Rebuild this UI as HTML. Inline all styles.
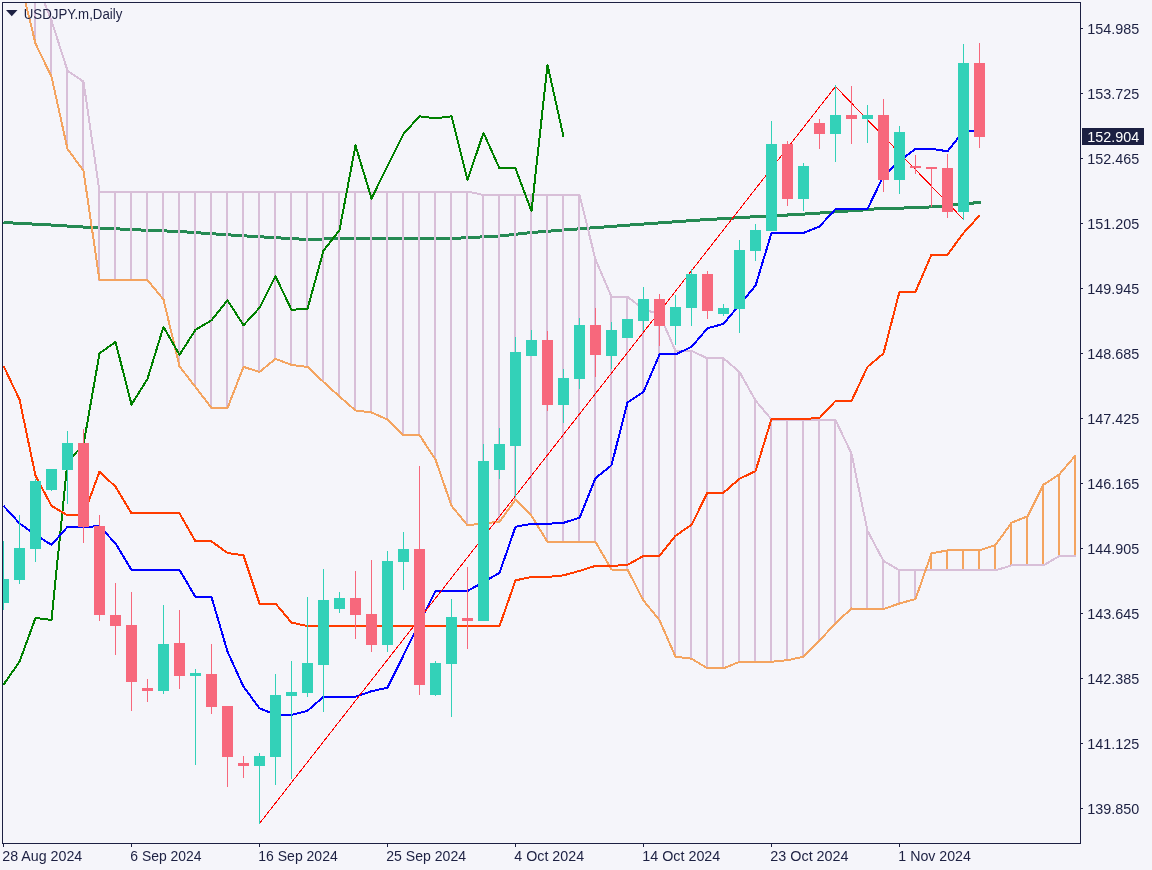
<!DOCTYPE html>
<html lang="en"><head><meta charset="utf-8"><title>USDJPY.m,Daily</title>
<style>
html,body{margin:0;padding:0;background:#f5f5fa;}
body{width:1152px;height:870px;overflow:hidden;}
svg{display:block;}
text{font-family:"Liberation Sans",sans-serif;font-size:14px;fill:#1c2042;}
</style></head><body>
<svg width="1152" height="870" viewBox="0 0 1152 870">
<rect width="1152" height="870" fill="#f5f5fa"/>
<defs><clipPath id="c"><rect x="3" y="3" width="1077" height="840"/></clipPath></defs>
<g clip-path="url(#c)" fill="none" stroke-linejoin="round" shape-rendering="crispEdges">
<polyline points="3.5,222.5 50.5,225 99.5,228 140.5,230 179.5,231.5 230.5,235 280.5,238 307.5,239.5 339.5,238.5 371.5,238.5 451.5,238.5 470.5,237.5 500.5,236 531.5,232.5 563.5,230 630.5,225 700.5,220 750.5,217 800.5,214.3 827.5,212.5 848.5,211 864.5,209.9 878.5,208.6 900.5,208.1 920.5,207.6 940.5,206.2 963.5,204 980.8,202.3" stroke="#258a53" stroke-width="3"/>
<g shape-rendering="crispEdges"><rect x="34" y="-20.5525" width="2" height="64.66" fill="#d8bfd8"/><rect x="50" y="20.05" width="2" height="57.14" fill="#d8bfd8"/><rect x="66" y="70.175" width="2" height="79.195" fill="#d8bfd8"/><rect x="82" y="81.2025" width="2" height="90.2225" fill="#d8bfd8"/><rect x="98" y="190.976" width="2" height="89.7225" fill="#d8bfd8"/><rect x="114" y="190.976" width="2" height="89.7225" fill="#d8bfd8"/><rect x="130" y="190.976" width="2" height="89.7225" fill="#d8bfd8"/><rect x="146" y="190.976" width="2" height="89.7225" fill="#d8bfd8"/><rect x="162" y="190.976" width="2" height="109.021" fill="#d8bfd8"/><rect x="178" y="190.976" width="2" height="175.938" fill="#d8bfd8"/><rect x="194" y="190.976" width="2" height="196.489" fill="#d8bfd8"/><rect x="210" y="190.976" width="2" height="217.543" fill="#d8bfd8"/><rect x="226" y="190.976" width="2" height="217.543" fill="#d8bfd8"/><rect x="242" y="190.976" width="2" height="176.439" fill="#d8bfd8"/><rect x="258" y="190.976" width="2" height="181.451" fill="#d8bfd8"/><rect x="274" y="190.976" width="2" height="168.419" fill="#d8bfd8"/><rect x="290" y="190.976" width="2" height="174.434" fill="#d8bfd8"/><rect x="306" y="190.976" width="2" height="176.439" fill="#d8bfd8"/><rect x="322" y="190.976" width="2" height="191.476" fill="#d8bfd8"/><rect x="338" y="190.976" width="2" height="206.012" fill="#d8bfd8"/><rect x="354" y="190.976" width="2" height="220.049" fill="#d8bfd8"/><rect x="370" y="190.976" width="2" height="222.054" fill="#d8bfd8"/><rect x="386" y="190.976" width="2" height="229.071" fill="#d8bfd8"/><rect x="402" y="190.976" width="2" height="244.61" fill="#d8bfd8"/><rect x="418" y="190.976" width="2" height="244.61" fill="#d8bfd8"/><rect x="434" y="190.976" width="2" height="269.171" fill="#d8bfd8"/><rect x="450" y="190.976" width="2" height="315.286" fill="#d8bfd8"/><rect x="466" y="190.976" width="2" height="334.835" fill="#d8bfd8"/><rect x="482" y="194.485" width="2" height="329.321" fill="#d8bfd8"/><rect x="498" y="194.485" width="2" height="327.817" fill="#d8bfd8"/><rect x="514" y="194.485" width="2" height="305.762" fill="#d8bfd8"/><rect x="530" y="194.485" width="2" height="321.803" fill="#d8bfd8"/><rect x="546" y="194.485" width="2" height="347.867" fill="#d8bfd8"/><rect x="562" y="194.485" width="2" height="347.867" fill="#d8bfd8"/><rect x="578" y="194.485" width="2" height="347.867" fill="#d8bfd8"/><rect x="594" y="259.147" width="2" height="283.205" fill="#d8bfd8"/><rect x="610" y="296.24" width="2" height="273.783" fill="#d8bfd8"/><rect x="626" y="296.24" width="2" height="273.783" fill="#d8bfd8"/><rect x="642" y="308.771" width="2" height="292.329" fill="#d8bfd8"/><rect x="658" y="313.784" width="2" height="306.865" fill="#d8bfd8"/><rect x="674" y="350.375" width="2" height="306.865" fill="#d8bfd8"/><rect x="690" y="350.375" width="2" height="308.87" fill="#d8bfd8"/><rect x="706" y="357.894" width="2" height="310.875" fill="#d8bfd8"/><rect x="722" y="357.894" width="2" height="310.875" fill="#d8bfd8"/><rect x="738" y="371.428" width="2" height="290.825" fill="#d8bfd8"/><rect x="754" y="400" width="2" height="262.253" fill="#d8bfd8"/><rect x="770" y="419.048" width="2" height="243.205" fill="#d8bfd8"/><rect x="786" y="419.048" width="2" height="241.701" fill="#d8bfd8"/><rect x="802" y="419.048" width="2" height="238.192" fill="#d8bfd8"/><rect x="818" y="419.048" width="2" height="222.153" fill="#d8bfd8"/><rect x="834" y="419.549" width="2" height="204.108" fill="#d8bfd8"/><rect x="850" y="453.132" width="2" height="155.886" fill="#d8bfd8"/><rect x="866" y="530.325" width="2" height="79.195" fill="#d8bfd8"/><rect x="882" y="560.4" width="2" height="49.12" fill="#d8bfd8"/><rect x="898" y="569.924" width="2" height="34.0825" fill="#d8bfd8"/><rect x="914" y="569.924" width="2" height="29.5712" fill="#d8bfd8"/><rect x="930" y="552.881" width="2" height="18.0425" fill="#f4a460"/><rect x="946" y="549.874" width="2" height="21.05" fill="#f4a460"/><rect x="962" y="549.874" width="2" height="21.05" fill="#f4a460"/><rect x="978" y="549.874" width="2" height="21.05" fill="#f4a460"/><rect x="994" y="544.36" width="2" height="26.5638" fill="#f4a460"/><rect x="1010" y="522.305" width="2" height="43.6063" fill="#f4a460"/><rect x="1026" y="515.789" width="2" height="50.1225" fill="#f4a460"/><rect x="1042" y="484.21" width="2" height="81.7013" fill="#f4a460"/><rect x="1058" y="473.684" width="2" height="82.7038" fill="#f4a460"/><rect x="1074" y="454.937" width="2" height="101.451" fill="#f4a460"/></g>
<polyline points="35.5,-20.1 51.5,20.6 67.5,70.7 83.5,81.7 99.5,191.5 115.5,191.5 131.5,191.5 147.5,191.5 163.5,191.5 179.5,191.5 195.5,191.5 211.5,191.5 227.5,191.5 243.5,191.5 259.5,191.5 275.5,191.5 291.5,191.5 307.5,191.5 323.5,191.5 339.5,191.5 355.5,191.5 371.5,191.5 387.5,191.5 403.5,191.5 419.5,191.5 435.5,191.5 451.5,191.5 467.5,191.5 483.5,195.0 499.5,195.0 515.5,195.0 531.5,195.0 547.5,195.0 563.5,195.0 579.5,195.0 595.5,259.6 611.5,296.7 627.5,296.7 643.5,309.3 659.5,314.3 675.5,350.9 691.5,350.9 707.5,358.4 723.5,358.4 739.5,371.9 755.5,400.5 771.5,419.5 787.5,419.5 803.5,419.5 819.5,419.5 835.5,420.0 851.5,453.6 867.5,530.8 883.5,560.9 899.5,570.4 915.5,570.4 931.5,570.4 947.5,570.4 963.5,570.4 979.5,570.4 995.5,570.4 1011.5,565.4 1027.5,565.4 1043.5,565.4 1059.5,555.9 1075.5,555.9" stroke="#d8bfd8" stroke-width="2"/>
<polyline points="19.5,-22.1 35.5,43.6 51.5,76.7 67.5,148.9 83.5,170.9 99.5,280.2 115.5,280.2 131.5,280.2 147.5,280.2 163.5,299.5 179.5,366.4 195.5,387.0 211.5,408.0 227.5,408.0 243.5,366.9 259.5,371.9 275.5,358.9 291.5,364.9 307.5,366.9 323.5,382.0 339.5,396.5 355.5,410.5 371.5,412.5 387.5,419.5 403.5,435.1 419.5,435.1 435.5,459.6 451.5,505.8 467.5,525.3 483.5,523.3 499.5,521.8 515.5,499.7 531.5,515.8 547.5,541.9 563.5,541.9 579.5,541.9 595.5,541.9 611.5,569.5 627.5,569.5 643.5,600.6 659.5,620.1 675.5,656.7 691.5,658.7 707.5,668.3 723.5,668.3 739.5,661.8 755.5,661.8 771.5,661.8 787.5,660.2 803.5,656.7 819.5,640.7 835.5,623.2 851.5,608.5 867.5,609.0 883.5,609.0 899.5,603.5 915.5,599.0 931.5,553.4 947.5,550.4 963.5,550.4 979.5,550.4 995.5,544.9 1011.5,522.8 1027.5,516.3 1043.5,484.7 1059.5,474.2 1075.5,455.4" stroke="#f4a460" stroke-width="2"/>
<polyline points="3.5,684.7 19.5,661.7 35.5,618.0 51.5,620.0 67.5,461.7 83.5,444.6 99.5,353.4 115.5,341.9 131.5,404.5 147.5,378.9 163.5,326.8 179.5,354.9 195.5,329.8 211.5,320.3 227.5,300.2 243.5,325.3 259.5,307.8 275.5,276.2 291.5,309.8 307.5,308.8 323.5,250.6 339.5,230.1 355.5,145.4 371.5,198.5 387.5,165.9 403.5,133.8 419.5,116.3 435.5,118.3 451.5,116.3 467.5,179.9 483.5,132.8 499.5,168.4 515.5,168.4 531.5,211.0 547.5,64.7 563.5,136.8" stroke="#008000" stroke-width="2"/>
<polyline points="3.5,365.9 19.5,399.5 35.5,475.7 51.5,505.8 67.5,515.3 83.5,515.3 99.5,471.7 115.5,486.7 131.5,513.3 147.5,513.3 163.5,513.3 179.5,513.3 195.5,541.4 211.5,541.4 227.5,552.9 243.5,555.4 259.5,603.5 275.5,603.5 291.5,622.6 307.5,626.1 323.5,626.1 339.5,626.1 355.5,626.1 371.5,626.1 387.5,626.1 403.5,626.1 419.5,626.1 435.5,626.1 451.5,626.1 467.5,626.1 483.5,626.1 499.5,626.1 515.5,580.4 531.5,576.9 547.5,576.9 563.5,575.4 579.5,570.9 595.5,565.9 611.5,565.9 627.5,564.9 643.5,555.9 659.5,555.9 675.5,535.8 691.5,524.8 707.5,492.7 723.5,492.7 739.5,478.7 755.5,471.2 771.5,419.0 787.5,419.0 803.5,419.0 819.5,418.0 835.5,401.0 851.5,401.0 867.5,366.9 883.5,353.4 899.5,291.7 915.5,291.7 931.5,254.6 947.5,254.6 963.5,233.1 979.5,215.5" stroke="#ff3c00" stroke-width="2"/>
<polyline points="3.5,505.8 19.5,523.3 35.5,534.8 51.5,544.9 67.5,526.8 83.5,526.8 99.5,526.3 115.5,543.4 131.5,569.9 147.5,569.9 163.5,569.9 179.5,569.9 195.5,597.0 211.5,597.0 227.5,651.6 243.5,686.7 259.5,708.3 275.5,714.8 291.5,714.8 307.5,710.8 323.5,696.7 339.5,696.7 355.5,696.7 371.5,691.2 387.5,687.7 403.5,655.3 419.5,622.9 435.5,591.0 451.5,591.0 467.5,591.0 483.5,582.0 499.5,572.9 515.5,526.8 531.5,523.8 547.5,523.8 563.5,522.8 579.5,517.8 595.5,478.2 611.5,465.2 627.5,402.5 643.5,392.0 659.5,354.4 675.5,354.4 691.5,346.9 707.5,328.3 723.5,323.8 739.5,304.8 755.5,285.7 771.5,233.0 787.5,233.0 803.5,233.0 819.5,226.5 835.5,209.0 851.5,209.0 867.5,209.0 883.5,175.9 899.5,160.8 915.5,148.8 931.5,148.8 947.5,151.3 963.5,131.3 979.5,131.3" stroke="#0000ff" stroke-width="2"/>
<path d="M259.5 823.5L835.5 86.5L963.5 219.5" stroke="#ff0000" stroke-width="1"/>
<g shape-rendering="crispEdges"><rect x="3" y="541" width="1" height="69" fill="#33d1b8"/><rect x="-2" y="579" width="11" height="24" fill="#33d1b8"/><rect x="19" y="515" width="1" height="69" fill="#33d1b8"/><rect x="14" y="548" width="11" height="32" fill="#33d1b8"/><rect x="35" y="479" width="1" height="83" fill="#33d1b8"/><rect x="30" y="481" width="11" height="68" fill="#33d1b8"/><rect x="51" y="469" width="1" height="22" fill="#33d1b8"/><rect x="46" y="469" width="11" height="21" fill="#33d1b8"/><rect x="67" y="431" width="1" height="73" fill="#33d1b8"/><rect x="62" y="443" width="11" height="27" fill="#33d1b8"/><rect x="83" y="429" width="1" height="114" fill="#f7687c"/><rect x="78" y="443" width="11" height="84" fill="#f7687c"/><rect x="99" y="515" width="1" height="106" fill="#f7687c"/><rect x="94" y="526" width="11" height="89" fill="#f7687c"/><rect x="115" y="583" width="1" height="72" fill="#f7687c"/><rect x="110" y="615" width="11" height="11" fill="#f7687c"/><rect x="131" y="592" width="1" height="119" fill="#f7687c"/><rect x="126" y="625" width="11" height="57" fill="#f7687c"/><rect x="147" y="679" width="1" height="23" fill="#f7687c"/><rect x="142" y="688" width="11" height="3" fill="#f7687c"/><rect x="163" y="605" width="1" height="89" fill="#33d1b8"/><rect x="158" y="644" width="11" height="47" fill="#33d1b8"/><rect x="179" y="610" width="1" height="79" fill="#f7687c"/><rect x="174" y="643" width="11" height="33" fill="#f7687c"/><rect x="195" y="669" width="1" height="96" fill="#33d1b8"/><rect x="190" y="673" width="11" height="3" fill="#33d1b8"/><rect x="211" y="644" width="1" height="70" fill="#f7687c"/><rect x="206" y="674" width="11" height="33" fill="#f7687c"/><rect x="227" y="706" width="1" height="81" fill="#f7687c"/><rect x="222" y="706" width="11" height="51" fill="#f7687c"/><rect x="243" y="756" width="1" height="22" fill="#f7687c"/><rect x="238" y="763" width="11" height="3" fill="#f7687c"/><rect x="259" y="753" width="1" height="71" fill="#33d1b8"/><rect x="254" y="756" width="11" height="10" fill="#33d1b8"/><rect x="275" y="674" width="1" height="111" fill="#33d1b8"/><rect x="270" y="695" width="11" height="62" fill="#33d1b8"/><rect x="291" y="661" width="1" height="118" fill="#33d1b8"/><rect x="286" y="692" width="11" height="4" fill="#33d1b8"/><rect x="307" y="597" width="1" height="100" fill="#33d1b8"/><rect x="302" y="663" width="11" height="30" fill="#33d1b8"/><rect x="323" y="569" width="1" height="143" fill="#33d1b8"/><rect x="318" y="600" width="11" height="65" fill="#33d1b8"/><rect x="339" y="592" width="1" height="21" fill="#33d1b8"/><rect x="334" y="598" width="11" height="11" fill="#33d1b8"/><rect x="355" y="571" width="1" height="68" fill="#f7687c"/><rect x="350" y="598" width="11" height="17" fill="#f7687c"/><rect x="371" y="560" width="1" height="92" fill="#f7687c"/><rect x="366" y="614" width="11" height="31" fill="#f7687c"/><rect x="387" y="551" width="1" height="101" fill="#33d1b8"/><rect x="382" y="561" width="11" height="84" fill="#33d1b8"/><rect x="403" y="532" width="1" height="58" fill="#33d1b8"/><rect x="398" y="549" width="11" height="13" fill="#33d1b8"/><rect x="419" y="466" width="1" height="229" fill="#f7687c"/><rect x="414" y="549" width="11" height="136" fill="#f7687c"/><rect x="435" y="661" width="1" height="35" fill="#33d1b8"/><rect x="430" y="663" width="11" height="32" fill="#33d1b8"/><rect x="451" y="599" width="1" height="118" fill="#33d1b8"/><rect x="446" y="617" width="11" height="47" fill="#33d1b8"/><rect x="467" y="567" width="1" height="82" fill="#f7687c"/><rect x="462" y="618" width="11" height="3" fill="#f7687c"/><rect x="483" y="444" width="1" height="177" fill="#33d1b8"/><rect x="478" y="461" width="11" height="160" fill="#33d1b8"/><rect x="499" y="428" width="1" height="51" fill="#33d1b8"/><rect x="494" y="444" width="11" height="26" fill="#33d1b8"/><rect x="515" y="337" width="1" height="160" fill="#33d1b8"/><rect x="510" y="352" width="11" height="94" fill="#33d1b8"/><rect x="531" y="330" width="1" height="26" fill="#33d1b8"/><rect x="526" y="340" width="11" height="16" fill="#33d1b8"/><rect x="547" y="331" width="1" height="80" fill="#f7687c"/><rect x="542" y="340" width="11" height="65" fill="#f7687c"/><rect x="563" y="369" width="1" height="54" fill="#33d1b8"/><rect x="558" y="378" width="11" height="27" fill="#33d1b8"/><rect x="579" y="318" width="1" height="71" fill="#33d1b8"/><rect x="574" y="325" width="11" height="54" fill="#33d1b8"/><rect x="595" y="308" width="1" height="69" fill="#f7687c"/><rect x="590" y="325" width="11" height="30" fill="#f7687c"/><rect x="611" y="322" width="1" height="47" fill="#33d1b8"/><rect x="606" y="330" width="11" height="26" fill="#33d1b8"/><rect x="627" y="319" width="1" height="19" fill="#33d1b8"/><rect x="622" y="319" width="11" height="19" fill="#33d1b8"/><rect x="643" y="287" width="1" height="44" fill="#33d1b8"/><rect x="638" y="299" width="11" height="22" fill="#33d1b8"/><rect x="659" y="294" width="1" height="52" fill="#f7687c"/><rect x="654" y="299" width="11" height="27" fill="#f7687c"/><rect x="675" y="295" width="1" height="50" fill="#33d1b8"/><rect x="670" y="307" width="11" height="19" fill="#33d1b8"/><rect x="691" y="269" width="1" height="57" fill="#33d1b8"/><rect x="686" y="274" width="11" height="34" fill="#33d1b8"/><rect x="707" y="271" width="1" height="48" fill="#f7687c"/><rect x="702" y="274" width="11" height="37" fill="#f7687c"/><rect x="723" y="304" width="1" height="12" fill="#33d1b8"/><rect x="718" y="308" width="11" height="6" fill="#33d1b8"/><rect x="739" y="240" width="1" height="93" fill="#33d1b8"/><rect x="734" y="250" width="11" height="59" fill="#33d1b8"/><rect x="755" y="224" width="1" height="37" fill="#33d1b8"/><rect x="750" y="230" width="11" height="21" fill="#33d1b8"/><rect x="771" y="121" width="1" height="110" fill="#33d1b8"/><rect x="766" y="144" width="11" height="87" fill="#33d1b8"/><rect x="787" y="141" width="1" height="65" fill="#f7687c"/><rect x="782" y="144" width="11" height="55" fill="#f7687c"/><rect x="803" y="163" width="1" height="48" fill="#33d1b8"/><rect x="798" y="166" width="11" height="33" fill="#33d1b8"/><rect x="819" y="119" width="1" height="30" fill="#f7687c"/><rect x="814" y="123" width="11" height="11" fill="#f7687c"/><rect x="835" y="85" width="1" height="77" fill="#33d1b8"/><rect x="830" y="115" width="11" height="19" fill="#33d1b8"/><rect x="851" y="86" width="1" height="58" fill="#f7687c"/><rect x="846" y="115" width="11" height="4" fill="#f7687c"/><rect x="867" y="105" width="1" height="38" fill="#33d1b8"/><rect x="862" y="115" width="11" height="4" fill="#33d1b8"/><rect x="883" y="99" width="1" height="93" fill="#f7687c"/><rect x="878" y="115" width="11" height="65" fill="#f7687c"/><rect x="899" y="126" width="1" height="68" fill="#33d1b8"/><rect x="894" y="132" width="11" height="48" fill="#33d1b8"/><rect x="915" y="155" width="1" height="19" fill="#f7687c"/><rect x="910" y="166" width="11" height="2" fill="#f7687c"/><rect x="931" y="167" width="1" height="40" fill="#f7687c"/><rect x="926" y="167" width="11" height="2" fill="#f7687c"/><rect x="947" y="154" width="1" height="64" fill="#f7687c"/><rect x="942" y="168" width="11" height="44" fill="#f7687c"/><rect x="963" y="44" width="1" height="176" fill="#33d1b8"/><rect x="958" y="63" width="11" height="149" fill="#33d1b8"/><rect x="979" y="43" width="1" height="105" fill="#f7687c"/><rect x="974" y="63" width="11" height="74" fill="#f7687c"/></g>
</g>
<g fill="#1c2042" shape-rendering="crispEdges">
<rect x="2" y="2" width="1079" height="1"/><rect x="2" y="2" width="1" height="842"/><rect x="2" y="843" width="1079" height="1"/><rect x="1080" y="2" width="1" height="842"/>
<rect x="1081" y="28" width="2" height="1"/>
<rect x="1081" y="93" width="2" height="1"/>
<rect x="1081" y="158" width="2" height="1"/>
<rect x="1081" y="223" width="2" height="1"/>
<rect x="1081" y="288" width="2" height="1"/>
<rect x="1081" y="353" width="2" height="1"/>
<rect x="1081" y="418" width="2" height="1"/>
<rect x="1081" y="483" width="2" height="1"/>
<rect x="1081" y="548" width="2" height="1"/>
<rect x="1081" y="613" width="2" height="1"/>
<rect x="1081" y="678" width="2" height="1"/>
<rect x="1081" y="743" width="2" height="1"/>
<rect x="1081" y="808" width="2" height="1"/>
<rect x="3" y="844" width="1" height="3"/>
<rect x="131" y="844" width="1" height="3"/>
<rect x="259" y="844" width="1" height="3"/>
<rect x="387" y="844" width="1" height="3"/>
<rect x="515" y="844" width="1" height="3"/>
<rect x="643" y="844" width="1" height="3"/>
<rect x="771" y="844" width="1" height="3"/>
<rect x="899" y="844" width="1" height="3"/>
<rect x="1082" y="128" width="62" height="17"/>
</g>
<path d="M6 10H17.5L11.75 16.2Z" fill="#1c2042"/>
<text x="23.8" y="18.8" textLength="98.5" lengthAdjust="spacingAndGlyphs">USDJPY.m,Daily</text>
<text x="1087.3" y="34" textLength="52" lengthAdjust="spacingAndGlyphs">154.985</text>
<text x="1087.3" y="99" textLength="52" lengthAdjust="spacingAndGlyphs">153.725</text>
<text x="1087.3" y="164" textLength="52" lengthAdjust="spacingAndGlyphs">152.465</text>
<text x="1087.3" y="229" textLength="52" lengthAdjust="spacingAndGlyphs">151.205</text>
<text x="1087.3" y="294" textLength="52" lengthAdjust="spacingAndGlyphs">149.945</text>
<text x="1087.3" y="359" textLength="52" lengthAdjust="spacingAndGlyphs">148.685</text>
<text x="1087.3" y="424" textLength="52" lengthAdjust="spacingAndGlyphs">147.425</text>
<text x="1087.3" y="489" textLength="52" lengthAdjust="spacingAndGlyphs">146.165</text>
<text x="1087.3" y="554" textLength="52" lengthAdjust="spacingAndGlyphs">144.905</text>
<text x="1087.3" y="619" textLength="52" lengthAdjust="spacingAndGlyphs">143.645</text>
<text x="1087.3" y="684" textLength="52" lengthAdjust="spacingAndGlyphs">142.385</text>
<text x="1087.3" y="749" textLength="52" lengthAdjust="spacingAndGlyphs">141.125</text>
<text x="1087.3" y="814" textLength="52" lengthAdjust="spacingAndGlyphs">139.850</text>
<text x="1087.3" y="142" textLength="52" lengthAdjust="spacingAndGlyphs" style="fill:#fff">152.904</text>
<text x="2.3" y="861" textLength="80" lengthAdjust="spacingAndGlyphs">28 Aug 2024</text>
<text x="130.3" y="861" textLength="71.3" lengthAdjust="spacingAndGlyphs">6 Sep 2024</text>
<text x="258.3" y="861" textLength="79.4" lengthAdjust="spacingAndGlyphs">16 Sep 2024</text>
<text x="386.3" y="861" textLength="79.8" lengthAdjust="spacingAndGlyphs">25 Sep 2024</text>
<text x="514.3" y="861" textLength="69.8" lengthAdjust="spacingAndGlyphs">4 Oct 2024</text>
<text x="642.3" y="861" textLength="78" lengthAdjust="spacingAndGlyphs">14 Oct 2024</text>
<text x="770.3" y="861" textLength="78.3" lengthAdjust="spacingAndGlyphs">23 Oct 2024</text>
<text x="898.3" y="861" textLength="72.6" lengthAdjust="spacingAndGlyphs">1 Nov 2024</text>
</svg></body></html>
